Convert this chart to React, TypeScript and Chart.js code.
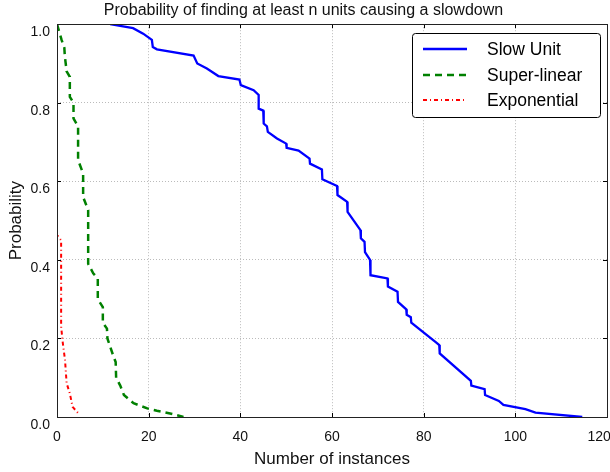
import React, { useEffect, useRef } from 'react';
import { Chart, registerables } from 'chart.js';

Chart.register(...registerables);

const titleText = 'Probability of finding at least n units causing a slowdown';
const xAxisTitle = 'Number of instances';
const yAxisTitle = 'Probability';
const seriesLabels = ['Slow Unit', 'Super-linear', 'Exponential'];

const slowUnitX = [11.6, 16.6, 18.8, 20.7, 20.9, 21.8, 29.8, 30.6, 32.7, 35.2, 39.8, 40.1, 42.9, 44.0, 44.0, 45.0, 45.1, 45.8, 46.0, 48.0, 50.0, 50.1, 52.7, 55.1, 55.2, 57.8, 57.9, 61.1, 61.2, 63.3, 63.4, 66.2, 66.3, 67.1, 67.2, 68.3, 68.4, 72.1, 72.2, 74.3, 74.4, 76.2, 76.3, 77.2, 77.3, 82.9, 83.4, 83.5, 90.3, 90.4, 93.3, 93.4, 96.4, 97.4, 102.2, 104.4, 114.6];
const slowUnitY = [1.0, 0.99, 0.976, 0.96, 0.942, 0.936, 0.92, 0.9, 0.887, 0.868, 0.859, 0.845, 0.832, 0.82, 0.785, 0.78, 0.747, 0.74, 0.726, 0.709, 0.696, 0.685, 0.678, 0.658, 0.645, 0.63, 0.605, 0.588, 0.565, 0.548, 0.522, 0.476, 0.455, 0.446, 0.42, 0.4, 0.361, 0.353, 0.332, 0.319, 0.293, 0.274, 0.26, 0.254, 0.24, 0.188, 0.183, 0.162, 0.092, 0.08, 0.071, 0.056, 0.041, 0.031, 0.02, 0.011, 0.0];

const superLinearX = [0, 1.0, 1.6, 1.7, 2.1, 2.8, 2.8, 3.6, 3.6, 4.6, 4.6, 5.7, 5.7, 6.8, 6.8, 7.9, 8.9, 8.9, 10.0, 10.0, 10.9, 11.0, 12.3, 12.8, 12.9, 13.8, 14.6, 16.7, 19.7, 21.8, 25.4, 27.6];
const superLinearY = [1.0, 0.96, 0.94, 0.92, 0.88, 0.866, 0.815, 0.8, 0.76, 0.74, 0.654, 0.62, 0.56, 0.527, 0.39, 0.366, 0.353, 0.3, 0.28, 0.24, 0.225, 0.2, 0.155, 0.14, 0.1, 0.08, 0.056, 0.035, 0.022, 0.016, 0.007, 0.0];

const exponentialX = [0, 0, 0.9, 0.9, 1.25, 1.75, 2.1, 2.8, 3.4, 4.6];
const exponentialY = [1.0, 0.463, 0.45, 0.23, 0.19, 0.145, 0.086, 0.06, 0.026, 0.01];

const xMin = 0;
const xMax = 120;
const xStep = 20;
const yMin = 0;
const yMax = 1;
const yStep = 0.2;

const FONT = '"Liberation Sans", Arial, Helvetica, sans-serif';

const zip = (xs: number[], ys: number[]) => xs.map((x, i) => ({ x, y: ys[i] }));

const framePlugin = {
  id: 'frameTicks',
  afterDatasetsDraw(chart: any) {
    const { ctx, chartArea } = chart;
    const { left, right, top, bottom } = chartArea;
    const xs = chart.scales.x;
    const ys = chart.scales.y;
    ctx.save();
    ctx.strokeStyle = '#000';
    ctx.lineWidth = 1;
    ctx.setLineDash([]);
    const tl = 4;
    ctx.beginPath();
    xs.ticks.forEach((t: any) => {
      const px = Math.round(xs.getPixelForValue(t.value)) + 0.5;
      ctx.moveTo(px, bottom);
      ctx.lineTo(px, bottom - tl);
      ctx.moveTo(px, top);
      ctx.lineTo(px, top + tl);
    });
    ys.ticks.forEach((t: any) => {
      const py = Math.round(ys.getPixelForValue(t.value)) + 0.5;
      ctx.moveTo(left, py);
      ctx.lineTo(left + tl, py);
      ctx.moveTo(right, py);
      ctx.lineTo(right - tl, py);
    });
    ctx.stroke();
    ctx.strokeStyle = '#222';
    ctx.strokeRect(Math.round(left) + 0.5, Math.round(top) + 0.5, Math.round(right - left), Math.round(bottom - top));
    ctx.restore();
  },
};

const legendPlugin = {
  id: 'boxLegend',
  afterDraw(chart: any) {
    const { ctx } = chart;
    const bx = 412;
    const by = 33;
    const bw = 188;
    const bh = 84;
    ctx.save();
    ctx.fillStyle = '#fff';
    ctx.strokeStyle = '#000';
    ctx.lineWidth = 1;
    ctx.setLineDash([]);
    ctx.beginPath();
    if (ctx.roundRect) ctx.roundRect(bx + 0.5, by + 0.5, bw, bh, 3);
    else ctx.rect(bx + 0.5, by + 0.5, bw, bh);
    ctx.fill();
    ctx.stroke();
    const rows = [49, 75, 100];
    chart.data.datasets.forEach((ds: any, i: number) => {
      const y = rows[i];
      ctx.strokeStyle = ds.borderColor;
      ctx.lineWidth = ds.borderWidth;
      ctx.setLineDash(ds.borderDash || []);
      ctx.beginPath();
      ctx.moveTo(423, y);
      ctx.lineTo(467, y);
      ctx.stroke();
      ctx.setLineDash([]);
      ctx.fillStyle = '#000';
      ctx.font = `17.5px ${FONT}`;
      ctx.textAlign = 'left';
      ctx.textBaseline = 'middle';
      ctx.fillText(ds.label, 487, y + 1);
    });
    ctx.restore();
  },
};

export default function App() {
  const ref = useRef<HTMLCanvasElement | null>(null);

  useEffect(() => {
    document.body.style.margin = '0';
    const canvas = ref.current;
    if (!canvas) return;
    const chart = new Chart(canvas, {
      type: 'scatter',
      data: {
        datasets: [
          {
            label: seriesLabels[0],
            data: zip(slowUnitX, slowUnitY),
            borderColor: '#0000ff',
            backgroundColor: '#0000ff',
            borderWidth: 2.3,
            showLine: true,
            pointRadius: 0,
            tension: 0,
          },
          {
            label: seriesLabels[1],
            data: zip(superLinearX, superLinearY),
            borderColor: '#008000',
            backgroundColor: '#008000',
            borderWidth: 2.5,
            borderDash: [7, 5],
            showLine: true,
            pointRadius: 0,
            tension: 0,
          },
          {
            label: seriesLabels[2],
            data: zip(exponentialX, exponentialY),
            borderColor: '#ff0000',
            backgroundColor: '#ff0000',
            borderWidth: 2,
            borderDash: [4, 3, 1, 3],
            showLine: true,
            pointRadius: 0,
            tension: 0,
          },
        ],
      },
      options: {
        animation: false,
        responsive: false,
        layout: { padding: { left: 0, right: 3, top: 0, bottom: 0 } },
        plugins: {
          legend: { display: false },
          tooltip: { enabled: false },
          title: {
            display: true,
            text: titleText,
            color: '#111',
            font: { family: FONT, size: 16, weight: 'normal' },
            padding: { top: 1, bottom: 4 },
          },
        },
        scales: {
          x: {
            type: 'linear',
            min: xMin,
            max: xMax,
            afterFit(scale: any) {
              scale.height = 55;
              scale.paddingLeft = 0;
              scale.paddingRight = 0;
            },
            ticks: {
              stepSize: xStep,
              padding: 12,
              color: '#111',
              font: { family: FONT, size: 14 },
              maxRotation: 0,
              autoSkip: false,
              callback: (v: any) => (Number(v) === xMax ? String(v) + '    ' : String(v)),
            },
            grid: { color: '#bbbbbb', lineWidth: 1, drawTicks: false },
            border: { display: false, dash: [1, 2] },
            title: {
              display: true,
              text: xAxisTitle,
              color: '#111',
              font: { family: FONT, size: 17 },
              padding: { top: 0, bottom: 2 },
            },
          },
          y: {
            type: 'linear',
            min: yMin,
            max: yMax,
            afterFit(scale: any) {
              scale.width = 57;
            },
            ticks: {
              stepSize: yStep,
              padding: 7,
              labelOffset: 8,
              color: '#111',
              font: { family: FONT, size: 14 },
              callback: (v: any) => Number(v).toFixed(1),
            },
            grid: { color: '#bbbbbb', lineWidth: 1, drawTicks: false },
            border: { display: false, dash: [1, 2] },
            title: {
              display: true,
              text: yAxisTitle,
              color: '#111',
              font: { family: FONT, size: 17 },
              padding: { top: 6, bottom: 0 },
            },
          },
        },
      },
      plugins: [framePlugin, legendPlugin],
    });
    return () => chart.destroy();
  }, []);

  return (
    <div style={{ width: 610, height: 472 }}>
      <canvas ref={ref} width={610} height={472} style={{ width: 610, height: 472, display: 'block' }} />
    </div>
  );
}
